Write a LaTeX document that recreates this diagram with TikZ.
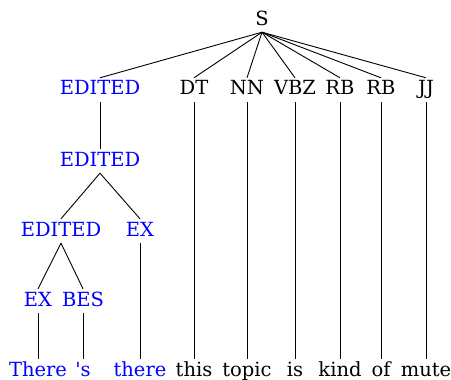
\documentclass[tikz,border=0pt]{standalone}
\usepackage{fontspec}
\setmainfont{DejaVu Serif}
\tikzset{
  tag/.style={anchor=base, inner xsep=1pt, inner ysep=3pt, text height=14pt, text depth=4pt, font=\fontsize{19.5}{21}\selectfont},
  edited/.style={tag, text=blue},
  branch/.style={black, line width=0.9pt}
}
\begin{document}
\begin{tikzpicture}[x=1pt, y=-1pt]
        \useasboundingbox (0,0) rectangle (451,380);
        % Root
        \node[tag] (s) at (262,25) {S};
        % Tags under the root
        \node[edited] (eda) at (100,95) {EDITED};
        \foreach \n/\x/\t in {dt/194/DT, nn/247/NN, vbz/295/VBZ, rba/340/RB, rbb/381/RB, jj/426/JJ} {
            \node[tag] (\n) at (\x,95) {\t};
        }
        % Edited subtree
        \node[edited] (edb) at (100,166) {EDITED};
        \node[edited] (edc) at (61,236) {EDITED};
        \node[edited] (exa) at (140,236) {EX};
        \node[edited] (exb) at (38,306) {EX};
        \node[edited] (bes) at (83,306) {BES};
        % Words
        \node[edited] (wthere) at (38,376) {There};
        \node[edited] (ws) at (83,376) {\textquotesingle s};
        \node[edited] (wthr) at (140,376) {there};
        \foreach \n/\x/\t in {wthis/194/this, wtopic/247/topic, wis/295/is, wkind/340/kind, wof/381/of, wmute/426/mute} {
            \node[tag] (\n) at (\x,376) {\t};
        }
        % Branches
        \foreach \n in {eda,dt,nn,vbz,rba,rbb,jj} {
            \draw[branch] (s.south) -- (\n.north);
        }
        \draw[branch] (eda.south) -- (edb.north);
        \draw[branch] (edb.south) -- (edc.north);
        \draw[branch] (edb.south) -- (exa.north);
        \draw[branch] (edc.south) -- (exb.north);
        \draw[branch] (edc.south) -- (bes.north);
        \draw[branch] (exb.south) -- (wthere.north);
        \draw[branch] (bes.south) -- (ws.north);
        \draw[branch] (exa.south) -- (wthr.north);
        \foreach \a/\b in {dt/wthis, nn/wtopic, vbz/wis, rba/wkind, rbb/wof, jj/wmute} {
            \draw[branch] (\a.south) -- (\b.north);
        }
\end{tikzpicture}
\end{document}
